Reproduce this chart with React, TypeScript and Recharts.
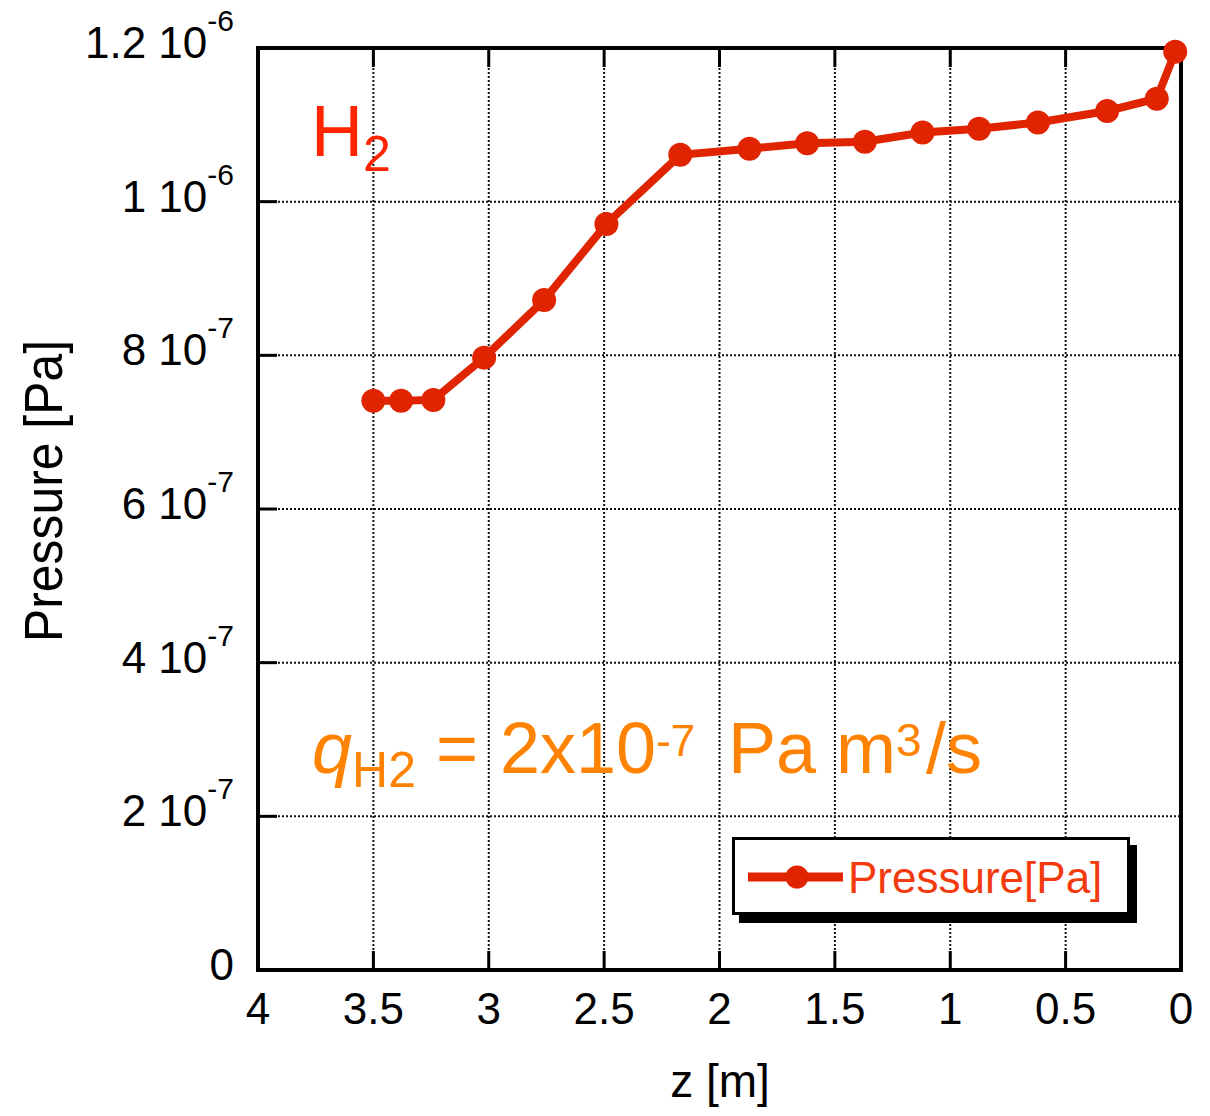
import { LineChart, Line, XAxis, YAxis, CartesianGrid, Legend, Customized } from "recharts";

const zValues = [3.5, 3.38, 3.24, 3.02, 2.76, 2.49, 2.17, 1.87, 1.62, 1.37, 1.12, 0.875, 0.62, 0.32, 0.105, 0.025];
const pressureValues = [
  7.41e-7, 7.41e-7, 7.42e-7, 7.97e-7, 8.72e-7, 9.71e-7, 1.061e-6, 1.069e-6,
  1.076e-6, 1.078e-6, 1.09e-6, 1.095e-6, 1.103e-6, 1.118e-6, 1.134e-6, 1.195e-6,
];

const xTicks = [0, 0.5, 1, 1.5, 2, 2.5, 3, 3.5, 4];
const yTicks = [0, 2e-7, 4e-7, 6e-7, 8e-7, 1e-6, 1.2e-6];
const yTickMantissa = ["0", "2", "4", "6", "8", "1", "1.2"];
const yTickExponent = ["", "-7", "-7", "-7", "-7", "-6", "-6"];

const data = zValues.map((z, i) => ({ z, p: pressureValues[i] }));

const FONT = "'Liberation Sans', Arial, sans-serif";
const LINE_RED = "#e02400";
const TICK_LEN = 19;

function BottomTick({ x, y, payload, index }: any) {
  const edge = index === 0 || index === xTicks.length - 1;
  return (
    <g>
      {!edge && <line x1={x} x2={x} y1={y} y2={y - TICK_LEN} stroke="#000" strokeWidth={3} />}
      <text x={x} y={y + 54} textAnchor="middle" fontSize={44} fontFamily={FONT} fill="#000">
        {String(payload.value)}
      </text>
    </g>
  );
}

function TopTick({ x, y, index }: any) {
  if (index === 0 || index === xTicks.length - 1) return null;
  return <line x1={x} x2={x} y1={y} y2={y + TICK_LEN} stroke="#000" strokeWidth={3} />;
}

function LeftTick({ x, y, index }: any) {
  const edge = index === 0 || index === yTicks.length - 1;
  const exp = yTickExponent[index];
  return (
    <g>
      {!edge && <line x1={x} x2={x + TICK_LEN} y1={y} y2={y} stroke="#000" strokeWidth={3} />}
      <text x={234} y={y + 10} textAnchor="end" fontSize={44} fontFamily={FONT} fill="#000">
        {exp ? yTickMantissa[index] + " 10" : yTickMantissa[index]}
        {exp && (
          <tspan fontSize={30} dy={-27}>
            {exp}
          </tspan>
        )}
      </text>
    </g>
  );
}

function RightTick({ x, y, index }: any) {
  if (index === 0 || index === yTicks.length - 1) return null;
  return <line x1={x} x2={x - TICK_LEN} y1={y} y2={y} stroke="#000" strokeWidth={3} />;
}

function LegendBox({ payload }: any) {
  const label = payload && payload[0] ? payload[0].value : "Pressure[Pa]";
  return (
    <div
      style={{
        width: 398,
        height: 78,
        boxSizing: "border-box",
        border: "3px solid #000",
        background: "#fff",
        boxShadow: "7px 8px 0 #000",
      }}
    >
      <svg width={392} height={72}>
        <line x1={13} x2={108} y1={37} y2={37} stroke={LINE_RED} strokeWidth={9} />
        <circle cx={62} cy={37} r={11.5} fill={LINE_RED} />
        <text x={113} y={53} fontSize={44} fontFamily={FONT} fill="#f33a0c">
          {label}
        </text>
      </svg>
    </div>
  );
}

function Annotations() {
  return (
    <g fontFamily={FONT}>
      <text x={311} y={156} fontSize={72} fill="#ff2400">
        H
        <tspan fontSize={50} dy={15}>2</tspan>
      </text>
      <text x={312} y={773} fontSize={72} fill="#ff8200">
        <tspan fontStyle="italic">q</tspan>
        <tspan fontSize={50} dy={14}>H2</tspan>
        <tspan x={436} dy={-14}>=</tspan>
        <tspan x={500}>2x10</tspan>
        <tspan fontSize={44} dy={-17}>-7</tspan>
        <tspan x={728} dy={17}>Pa m</tspan>
        <tspan x={896} fontSize={46} dy={-17}>3</tspan>
        <tspan x={926} dy={17}>/s</tspan>
      </text>
      <text
        x={62}
        y={491}
        transform="rotate(-90, 62, 491)"
        textAnchor="middle"
        fontSize={54}
        textLength={302}
        lengthAdjust="spacingAndGlyphs"
        fill="#000"
      >
        Pressure [Pa]
      </text>
      <text x={720} y={1097} textAnchor="middle" fontSize={46} fill="#000">
        z [m]
      </text>
    </g>
  );
}

export default function App() {
  const axisLine = { stroke: "#000", strokeWidth: 4, strokeLinecap: "square" as const };
  return (
    <div style={{ width: 1210, height: 1116, background: "#fff" }}>
      <style>{"body{margin:0;background:#fff}"}</style>
      <LineChart width={1210} height={1116} data={data} margin={{ top: 47, right: 28, left: 0, bottom: 0 }}>
        <CartesianGrid stroke="#111" strokeWidth={2} strokeDasharray="2 2" />
        <XAxis
          dataKey="z"
          type="number"
          domain={[0, 4]}
          ticks={xTicks}
          reversed
          height={146}
          axisLine={axisLine}
          tickLine={false}
          tickSize={0}
          tickMargin={0}
          interval={0}
          tick={<BottomTick />}
        />
        <XAxis
          xAxisId="top"
          orientation="top"
          dataKey="z"
          type="number"
          domain={[0, 4]}
          ticks={xTicks}
          reversed
          height={1}
          axisLine={axisLine}
          tickLine={false}
          tickSize={0}
          tickMargin={0}
          interval={0}
          tick={<TopTick />}
        />
        <YAxis
          type="number"
          domain={[0, 1.2e-6]}
          ticks={yTicks}
          width={258}
          axisLine={axisLine}
          tickLine={false}
          tickSize={0}
          tickMargin={0}
          interval={0}
          tick={<LeftTick />}
        />
        <YAxis
          yAxisId="right"
          orientation="right"
          type="number"
          domain={[0, 1.2e-6]}
          ticks={yTicks}
          width={1}
          axisLine={axisLine}
          tickLine={false}
          tickSize={0}
          tickMargin={0}
          interval={0}
          tick={<RightTick />}
        />
        <Line
          dataKey="p"
          name="Pressure[Pa]"
          stroke={LINE_RED}
          strokeWidth={8}
          dot={{ r: 12, fill: LINE_RED, stroke: "none" }}
          activeDot={false}
          isAnimationActive={false}
        />
        <Legend
          layout="vertical"
          align="center"
          verticalAlign="middle"
          content={<LegendBox />}
          wrapperStyle={{ left: 732, top: 837, width: 398, height: 78 }}
        />
        <Customized component={<Annotations />} />
      </LineChart>
    </div>
  );
}
